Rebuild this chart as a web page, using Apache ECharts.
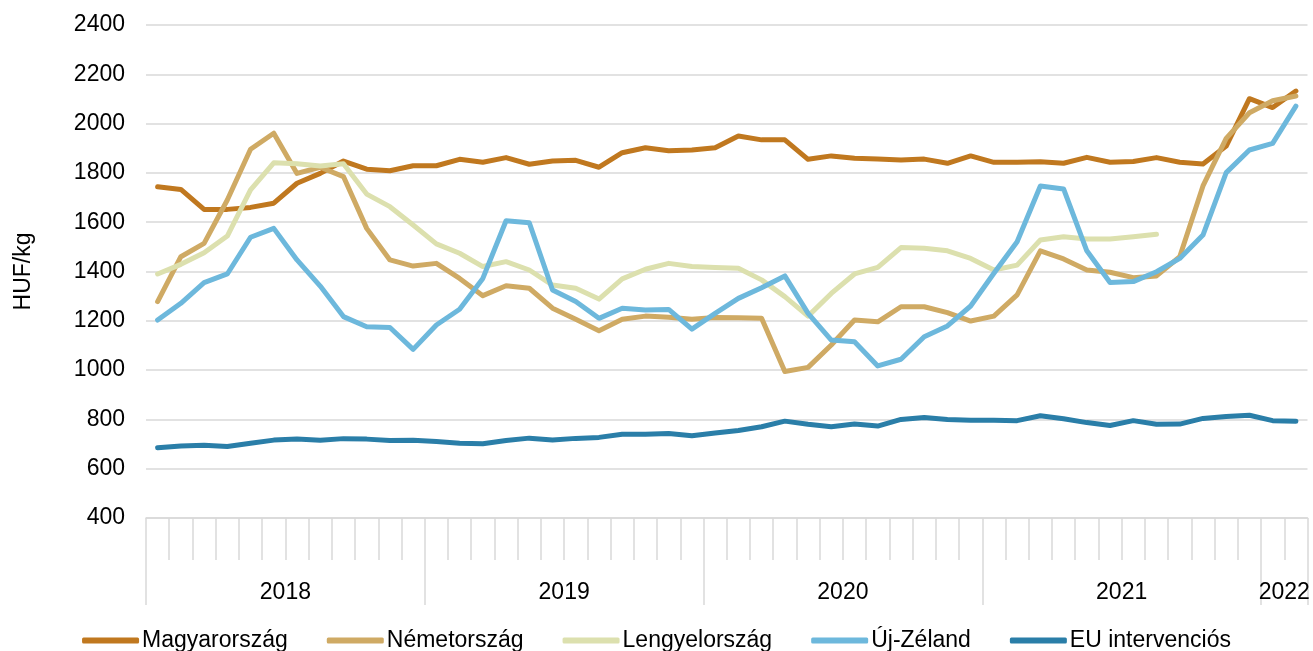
<!DOCTYPE html>
<html>
<head>
<meta charset="utf-8">
<script src="https://cdn.jsdelivr.net/npm/echarts@6/dist/echarts.min.js"></script>
<style>
  html, body { margin: 0; padding: 0; background: #fff; }
  #chart { width: 1313px; height: 651px; }
</style>
</head>
<body>
<div id="chart"></div>
<script>
// havi adatok 2018 januártól 2022 februárig
var years = ['2018', '2019', '2020', '2021', '2022'];
var months = [];
for (var y = 0; y < years.length; y++) {
    var n = years[y] === '2022' ? 2 : 12;
    for (var m = 1; m <= n; m++) months.push(years[y] + '-' + (m < 10 ? '0' + m : m));
}

var magyar = [1744, 1733, 1652, 1652, 1660, 1677, 1758, 1798, 1848, 1815, 1809, 1829,
    1829, 1855, 1843, 1862, 1835, 1848, 1851, 1823, 1882, 1902, 1890, 1893,
    1902, 1950, 1934, 1934, 1855, 1869, 1859, 1856, 1852, 1856, 1839, 1869,
    1843, 1843, 1845, 1839, 1863, 1843, 1846, 1862, 1843, 1836, 1909, 2101,
    2065, 2132];
var nemet = [1278, 1460, 1514, 1690, 1896, 1961, 1798, 1823, 1785, 1575, 1447, 1422,
    1433, 1372, 1302, 1342, 1332, 1251, 1206, 1160, 1206, 1219, 1214, 1206,
    1213, 1212, 1210, 994, 1011, 1102, 1203, 1196, 1257, 1257, 1233, 1199,
    1219, 1305, 1484, 1451, 1406, 1397, 1375, 1382, 1460, 1747, 1940, 2044,
    2093, 2112];
var lengyel = [1390, 1429, 1476, 1544, 1731, 1841, 1837, 1828, 1837, 1714, 1663, 1589,
    1512, 1474, 1420, 1440, 1406, 1345, 1332, 1288, 1370, 1409, 1433, 1420,
    1416, 1413, 1366, 1298, 1219, 1311, 1390, 1417, 1497, 1494, 1484, 1453,
    1406, 1426, 1528, 1541, 1532, 1532, 1541, 1551, null, null, null, null,
    null, null];
var ujzeland = [1203, 1271, 1355, 1390, 1539, 1575, 1447, 1341, 1217, 1176, 1173, 1084,
    1183, 1247, 1372, 1606, 1598, 1325, 1278, 1210, 1251, 1244, 1246, 1166,
    1230, 1291, 1334, 1382, 1230, 1122, 1115, 1017, 1044, 1135, 1179, 1260,
    1393, 1521, 1747, 1735, 1484, 1355, 1359, 1399, 1453, 1548, 1801, 1893,
    1920, 2071];
var euInterv = [685, 692, 695, 690, 703, 716, 720, 715, 722, 720, 714, 715,
    710, 703, 701, 714, 724, 716, 723, 727, 740, 740, 743, 734, 745, 755,
    770, 793, 780, 770, 781, 773, 800, 808, 800, 797, 797, 795, 815, 803,
    787, 775, 795, 780, 781, 804, 812, 817, 795, 792];

// évcímkék a hónap-tengely közepén
var yearLabelPos = {6: '2018', 18: '2019', 30: '2020', 42: '2021', 49: '2022'};

var seriesNames = ['Magyarország', 'Németország', 'Lengyelország', 'Új-Zéland', 'EU intervenciós'];
var seriesData = [magyar, nemet, lengyel, ujzeland, euInterv];
var colors = ['#C0781F', '#CFAA64', '#DCE0AE', '#6DB8DC', '#2A7EA8'];

var font = 'Liberation Sans, Arial, sans-serif';
var gridColor = '#d9d9d9';

var series = [];
for (var i = 0; i < seriesNames.length; i++) {
    series.push({
        name: seriesNames[i],
        type: 'line',
        xAxisIndex: 0,
        data: seriesData[i],
        showSymbol: false,
        symbol: 'none',
        connectNulls: false,
        lineStyle: { color: colors[i], width: 5, cap: 'round', join: 'round' },
        itemStyle: { color: colors[i] }
    });
}

var myChart = echarts.init(document.getElementById('chart'));
var option = {
    animation: false,
    color: colors,
    textStyle: { fontFamily: font },
    grid: { left: 146, right: 5.5, top: 25, bottom: 133, containLabel: false },
    legend: {
        data: seriesNames,
        top: 624,
        left: 'center',
        icon: 'roundRect',
        itemWidth: 57,
        itemHeight: 6,
        itemGap: 39,
        textStyle: { fontFamily: font, fontSize: 23, color: '#000', padding: [0, 0, 0, -2] }
    },
    xAxis: [
        {
            type: 'category',
            data: months,
            position: 'bottom',
            boundaryGap: true,
            axisLine: { show: true, lineStyle: { color: gridColor, width: 1.5 } },
            axisTick: { show: true, interval: 0, length: 42, lineStyle: { color: gridColor, width: 1.5 } },
            axisLabel: { show: false },
            splitLine: { show: false }
        },
        {
            // évhatárok hosszú osztásjelei
            type: 'value',
            min: 0,
            max: 50,
            interval: 12,
            position: 'bottom',
            axisLine: { show: false },
            axisTick: { show: true, length: 87, lineStyle: { color: gridColor, width: 1.5 } },
            axisLabel: { show: false },
            splitLine: { show: false }
        },
        {
            // évcímkék
            type: 'value',
            min: 0,
            max: 50,
            interval: 1,
            position: 'bottom',
            axisLine: { show: false },
            axisTick: { show: false },
            splitLine: { show: false },
            axisLabel: {
                show: true,
                margin: 63,
                fontSize: 23,
                color: '#000',
                fontFamily: font,
                showMinLabel: true,
                showMaxLabel: true,
                formatter: function (v) { return yearLabelPos[v] || ''; }
            }
        }
    ],
    yAxis: {
        type: 'value',
        min: 400,
        max: 2400,
        interval: 200,
        name: 'HUF/kg',
        nameLocation: 'middle',
        nameGap: 111,
        nameTextStyle: { fontSize: 23, color: '#000', fontFamily: font },
        axisLine: { show: false },
        axisTick: { show: false },
        axisLabel: {
            fontSize: 23, color: '#000', margin: 21, fontFamily: font,
            formatter: function (v) { return String(v); }
        },
        splitLine: { show: true, lineStyle: { color: gridColor, width: 1.5 } }
    },
    series: series
};
myChart.setOption(option);
</script>
</body>
</html>
